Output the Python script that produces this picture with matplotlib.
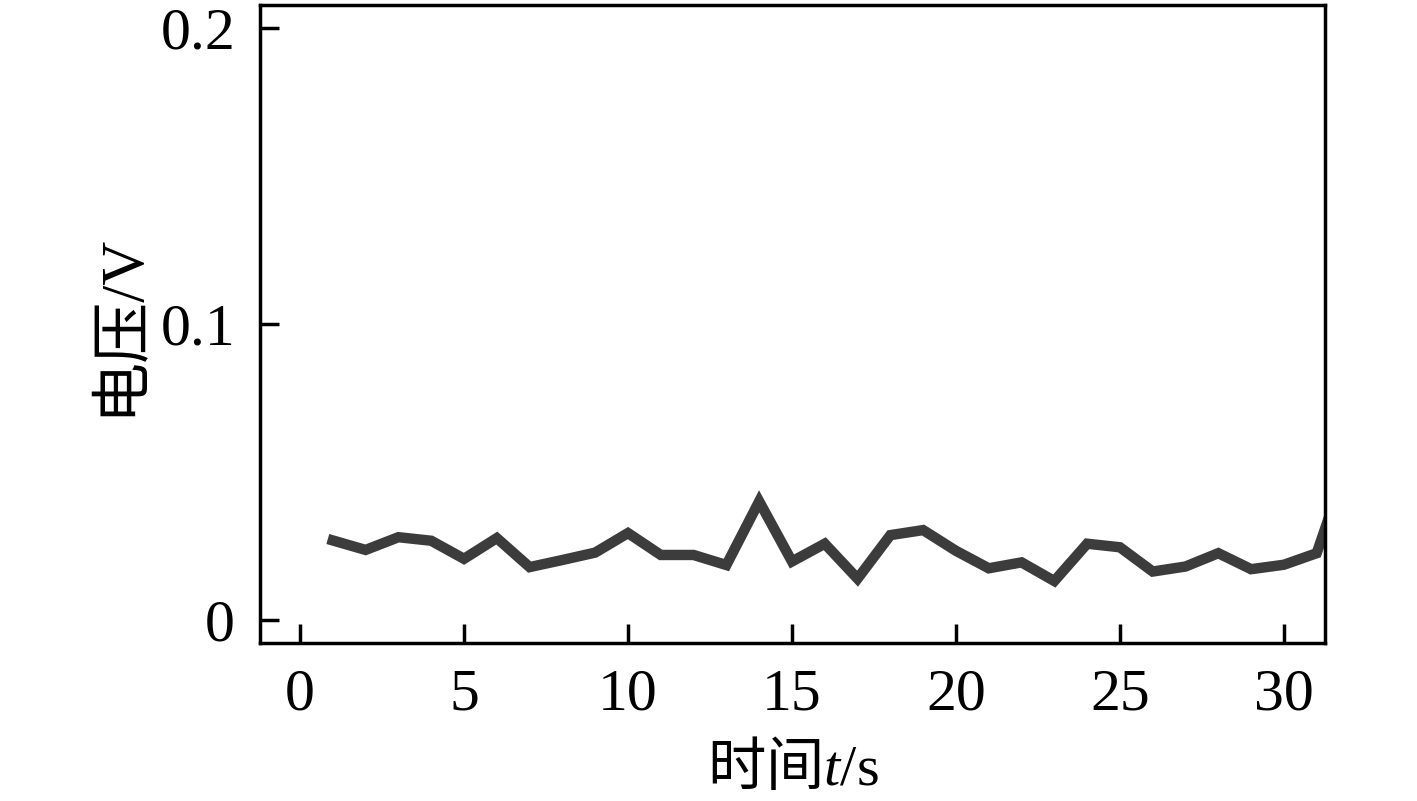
import matplotlib
matplotlib.use("Agg")
import matplotlib.pyplot as plt

plt.rcParams['font.family'] = ['Liberation Serif', 'Noto Sans CJK SC']
plt.rcParams['mathtext.fontset'] = 'custom'
plt.rcParams['mathtext.rm'] = 'Noto Sans CJK SC'
plt.rcParams['mathtext.it'] = 'Liberation Serif:italic'

# datos
t = list(range(1, 33))
voltaje = [0.0269, 0.0237, 0.0280, 0.0268, 0.0207, 0.0277, 0.0179, 0.0203,
           0.0228, 0.0294, 0.0220, 0.0220, 0.0186, 0.0401, 0.0198, 0.0258,
           0.0140, 0.0287, 0.0304, 0.0234, 0.0175, 0.0195, 0.0132, 0.0258,
           0.0246, 0.0164, 0.0181, 0.0226, 0.0172, 0.0187, 0.0226, 0.0550]
xticks = [0, 5, 10, 15, 20, 25, 30]
yticks = [0, 0.1, 0.2]
ytick_labels = ["0", "0.1", "0.2"]

fig = plt.figure(figsize=(14.17, 8.01), dpi=100)
ax = fig.add_axes([0.1835, 0.197, 0.7515, 0.797])

ax.plot(t, voltaje, color="#3c3c3c", lw=7.5, solid_joinstyle="miter")

ax.set_xlim(-1.22, 31.25)
ax.set_ylim(-0.0078, 0.2078)
ax.set_xticks(xticks)
ax.set_yticks(yticks)
ax.set_yticklabels(ytick_labels)
ax.tick_params(direction="in", length=14, width=2.5, labelsize=43, pad=18)
for s in ax.spines.values():
    s.set_linewidth(2.5)

ax.set_xlabel(r"$\mathrm{时间}t$/s", fontsize=42, labelpad=12)
ax.set_ylabel("电压/V", fontsize=44, labelpad=8)

fig.savefig("out.png", dpi=100)
